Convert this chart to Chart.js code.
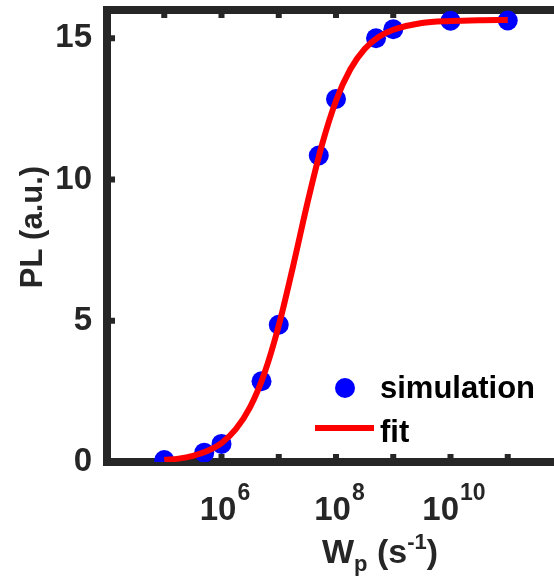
<!DOCTYPE html>
<html>
<head>
<meta charset="utf-8">
<script src="https://cdn.jsdelivr.net/npm/chart.js@4"></script>
<style>
    html, body { margin: 0; padding: 0; background: #fff; overflow: hidden; }
    #wrap { position: relative; width: 600px; height: 585px; }
</style>
</head>
<body>
<div id="wrap"><canvas id="plChart"></canvas></div>
<script>
// simulation points (pump rate W_p in s^-1, PL in a.u.)
const simRates = [1e5, 5e5, 1e6, 5e6, 1e7, 5e7, 1e8, 5e8, 1e9, 1e10, 1e11];
const simPL = [0.07, 0.33, 0.64, 2.86, 4.86, 10.85, 12.85, 15.0, 15.32, 15.62, 15.63];

// fit curve
const fitRates = [1e5, 1.78e5, 3.16e5, 5.62e5, 1e6, 1.78e6, 3.16e6, 5.62e6, 1e7, 1.78e7, 3.16e7,
    5.62e7, 1e8, 1.78e8, 3.16e8, 5.62e8, 1e9, 3.16e9, 1e10, 3.16e10, 1e11];
const fitPL = [0.07, 0.12, 0.22, 0.39, 0.67, 1.16, 1.94, 3.14, 4.83, 6.93, 9.16,
    11.19, 12.79, 13.9, 14.62, 15.05, 15.3, 15.54, 15.61, 15.64, 15.65];

const xTicks = [1e4, 1e5, 1e6, 1e7, 1e8, 1e9, 1e10, 1e11, 1e12];
const xLabelExponents = [6, 8, 10];
const yTicks = [0, 5, 10, 15];

const FONT = '"Liberation Sans", Arial, sans-serif';
const AXIS_COLOR = '#262626';

// box + inward ticks on all four sides
const axesFrame = {
    id: 'axesFrame',
    beforeDatasetsDraw(chart) {
        const { ctx, chartArea: a, scales: { x, y } } = chart;
        ctx.save();
        ctx.fillStyle = AXIS_COLOR;
        x.ticks.forEach(t => {
            const px = x.getPixelForValue(t.value);
            ctx.fillRect(px - 3, a.bottom - 8, 6, 8);
            ctx.fillRect(px - 3, a.top, 6, 8);
        });
        y.ticks.forEach(t => {
            const py = y.getPixelForValue(t.value);
            ctx.fillRect(a.left, py - 3, 8, 6);
            ctx.fillRect(a.right - 8, py - 3, 8, 6);
        });
        ctx.strokeStyle = AXIS_COLOR;
        ctx.lineWidth = 8;
        ctx.strokeRect(a.left, a.top, a.width, a.height);
        ctx.restore();
    }
};

// 10^n labels with a raised exponent
const powerLabels = {
    id: 'powerLabels',
    afterDraw(chart) {
        const { ctx, chartArea: a, scales: { x } } = chart;
        ctx.save();
        ctx.fillStyle = AXIS_COLOR;
        ctx.textBaseline = 'alphabetic';
        xLabelExponents.forEach(n => {
            const px = x.getPixelForValue(Math.pow(10, n));
            ctx.font = 'bold 33px ' + FONT;
            const wBase = ctx.measureText('10').width;
            ctx.font = 'bold 23px ' + FONT;
            const wExp = ctx.measureText(String(n)).width;
            let sx = px - (wBase + wExp) / 2 + 3;
            ctx.font = 'bold 33px ' + FONT;
            ctx.fillText('10', sx, a.bottom + 58);
            ctx.font = 'bold 23px ' + FONT;
            ctx.fillText(String(n), sx + wBase + 1, a.bottom + 38);
        });
        ctx.restore();
    }
};

// legend sitting inside the plot, lower right
const cornerLegend = {
    id: 'cornerLegend',
    afterDatasetsDraw(chart) {
        const ctx = chart.ctx;
        const sim = chart.data.datasets[0];
        const fit = chart.data.datasets[1];
        ctx.save();
        ctx.fillStyle = sim.backgroundColor;
        ctx.beginPath();
        ctx.arc(345, 388, sim.pointRadius, 0, Math.PI * 2);
        ctx.fill();
        ctx.strokeStyle = fit.borderColor;
        ctx.lineWidth = fit.borderWidth;
        ctx.beginPath();
        ctx.moveTo(315, 428);
        ctx.lineTo(374, 428);
        ctx.stroke();
        ctx.fillStyle = '#000';
        ctx.font = 'bold 31px ' + FONT;
        ctx.textBaseline = 'alphabetic';
        ctx.fillText(sim.label, 380, 398);
        ctx.fillText(fit.label, 380, 442);
        ctx.restore();
    }
};

// axis titles (x title sits right of the axis centre in the original)
const axisTitles = {
    id: 'axisTitles',
    afterDraw(chart) {
        const ctx = chart.ctx;
        ctx.save();
        ctx.fillStyle = AXIS_COLOR;
        ctx.textBaseline = 'alphabetic';

        ctx.save();
        ctx.translate(42, 227);
        ctx.rotate(-Math.PI / 2);
        ctx.textAlign = 'center';
        ctx.font = 'bold 31px ' + FONT;
        ctx.fillText('PL (a.u.)', 0, 0);
        ctx.restore();

        const parts = [
            ['W', 34, 0], ['p', 22, 8], [' (s', 34, 0], ['-1', 22, -14], [')', 34, 0]
        ];
        let cx = 322;
        parts.forEach(([txt, size, dy]) => {
            ctx.font = 'bold ' + size + 'px ' + FONT;
            ctx.fillText(txt, cx, 563 + dy);
            cx += ctx.measureText(txt).width;
        });
        ctx.restore();
    }
};

new Chart(document.getElementById('plChart'), {
    type: 'scatter',
    data: {
        datasets: [{
            label: 'simulation',
            data: simRates.map((r, i) => ({ x: r, y: simPL[i] })),
            backgroundColor: '#0000ff',
            borderWidth: 0,
            pointRadius: 10,
            order: 1
        }, {
            label: 'fit',
            type: 'line',
            data: fitRates.map((r, i) => ({ x: r, y: fitPL[i] })),
            borderColor: '#ff0000',
            borderWidth: 6,
            pointRadius: 0,
            cubicInterpolationMode: 'monotone',
            fill: false,
            order: 0
        }]
    },
    options: {
        responsive: true,
        maintainAspectRatio: false,
        animation: false,
        layout: { padding: { left: 0, top: 9, right: 35, bottom: 0 } },
        plugins: {
            legend: { display: false },
            tooltip: { enabled: false }
        },
        scales: {
            x: {
                type: 'logarithmic',
                min: 1e4,
                max: 1e12,
                grid: { display: false, drawTicks: false },
                border: { display: false },
                afterBuildTicks: scale => { scale.ticks = xTicks.map(v => ({ value: v })); },
                afterFit: scale => {
                    scale.height = 123;
                    scale.paddingLeft = 0;
                    scale.paddingRight = 0;
                },
                ticks: { display: false, autoSkip: false }
            },
            y: {
                min: 0,
                max: 16,
                grid: { display: false, drawTicks: false },
                border: { display: false },
                afterBuildTicks: scale => { scale.ticks = yTicks.map(v => ({ value: v })); },
                afterFit: scale => {
                    scale.width = 107;
                    scale.paddingTop = 0;
                    scale.paddingBottom = 0;
                },
                ticks: {
                    padding: 15,
                    color: AXIS_COLOR,
                    font: { family: FONT, size: 33, weight: 'bold' }
                }
            }
        }
    },
    plugins: [axesFrame, powerLabels, cornerLegend, axisTitles]
});
</script>
</body>
</html>
